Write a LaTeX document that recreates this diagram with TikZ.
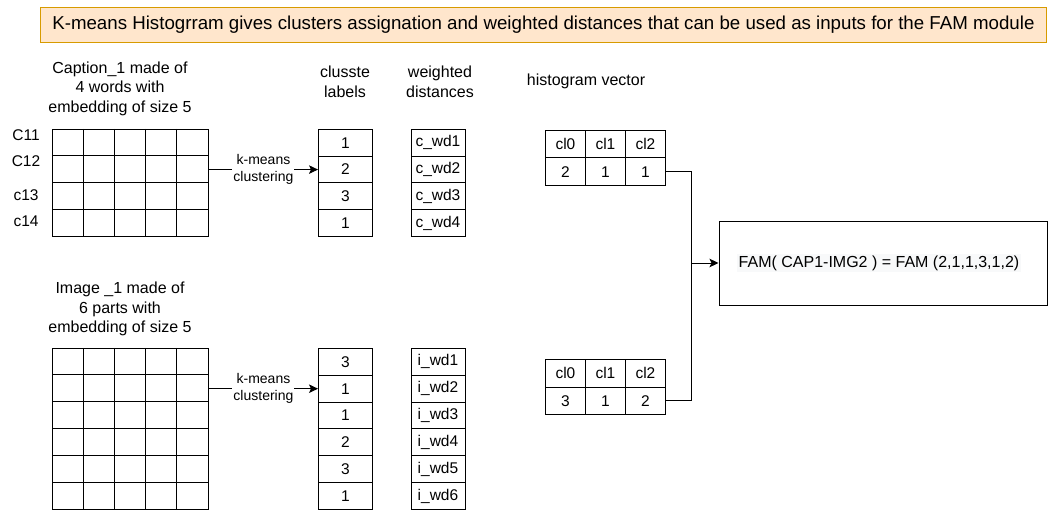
\documentclass[tikz,border=0pt]{standalone}
\usepackage{fontspec}
\setmainfont{Liberation Sans}
\usetikzlibrary{arrows.meta}
\definecolor{titlefill}{HTML}{FFE6CC}
\definecolor{titledraw}{HTML}{D79B00}
\definecolor{txthl}{HTML}{F8F9FA}
\begin{document}
\begin{tikzpicture}[x=1pt,y=-1pt,line width=0.9pt,
  cell/.style={draw, minimum width=54pt, minimum height=26.75pt, inner sep=0pt, anchor=north west, font=\fontsize{15.5}{17}\selectfont},
  icell/.style={cell, minimum height=26.83pt},
  hcell/.style={draw, minimum width=40pt, minimum height=27.5pt, inner sep=0pt, anchor=north west, font=\fontsize{15.5}{17}\selectfont},
  hdr/.style={align=center, font=\fontsize{16}{19.5}\selectfont, inner sep=0pt},
  rowlbl/.style={font=\fontsize{15.5}{17}\selectfont, inner sep=0pt},
  gridbox/.style={draw, inner sep=0pt, anchor=north west},
  arr/.style={-{Stealth[length=9pt,width=8.5pt,inset=2pt]}},
  edgelbl/.style={fill=white, align=center, font=\fontsize{14}{17}\selectfont, inner sep=1pt}]
\useasboundingbox (0,0) rectangle (1049,518);

% title
\node[draw=titledraw, fill=titlefill, minimum width=1006pt, minimum height=35pt, anchor=north west, inner sep=0pt] (title) at (40,7) {};
\node[font=\fontsize{18.7}{21}\selectfont, inner sep=0pt] (titletext) at (title.center) {K-means Histogrram gives clusters assignation and weighted distances that can be used as inputs for the FAM module};

% headers
\node[hdr] (caphdr) at (120,88.5) {Caption\_1 made of\\4 words with\\embedding of size 5};
\node[hdr] (clhdr) at (345,82) {clusste\\labels};
\node[hdr] (wdhdr) at (440,82) {weighted\\distances};
\node[hdr] (histhdr) at (586,81) {histogram vector};
\node[hdr] (imghdr) at (120,309) {Image \_1 made of\\6 parts with\\embedding of size 5};

% row labels
\node[rowlbl] (r11) at (26,135) {C11};
\node[rowlbl] (r12) at (26,161) {C12};
\node[rowlbl] (r13) at (26,195) {c13};
\node[rowlbl] (r14) at (26,221) {c14};

% caption grid
\node[gridbox, minimum width=156pt, minimum height=107pt] (capgrid) at (52,129) {};
\foreach \i in {1,...,4} \draw ({52+31.2*\i},129) -- ({52+31.2*\i},236);
\foreach \j in {1,2,3} \draw (52,{129+26.75*\j}) -- (208,{129+26.75*\j});

% image grid
\node[gridbox, minimum width=156pt, minimum height=161pt] (imggrid) at (52,348) {};
\foreach \i in {1,...,4} \draw ({52+31.2*\i},348) -- ({52+31.2*\i},509);
\foreach \j in {1,...,5} \draw (52,{348+26.83*\j}) -- (208,{348+26.83*\j});

% caption cluster labels and weighted distances
\foreach \v [count=\k] in {1,2,3,1}
  \node[cell] (ca\k) at (318,{129+26.75*(\k-1)}) {\v};
\foreach \k in {1,...,4}
  \node[cell] (cw\k) at (410.5,{129+26.75*(\k-1)}) {c\_wd\k};

% image cluster labels and weighted distances
\foreach \v [count=\k] in {3,1,1,2,3,1}
  \node[icell] (ia\k) at (318,{348+26.83*(\k-1)}) {\v};
\foreach \k in {1,...,6}
  \node[icell] (iw\k) at (410.5,{348+26.83*(\k-1)}) {i\_wd\k};

% histograms
\foreach \t [count=\k] in {cl0,cl1,cl2}
  \node[hcell] (ha1\k) at ({545+40*(\k-1)},130) {\t};
\foreach \t [count=\k] in {2,1,1}
  \node[hcell] (ha2\k) at ({545+40*(\k-1)},157.5) {\t};
\foreach \t [count=\k] in {cl0,cl1,cl2}
  \node[hcell] (hb1\k) at ({545+40*(\k-1)},359) {\t};
\foreach \t [count=\k] in {3,1,2}
  \node[hcell] (hb2\k) at ({545+40*(\k-1)},386.5) {\t};

% FAM box
\node[draw, minimum width=328pt, minimum height=84pt, anchor=north west, inner sep=0pt] (fam) at (718.5,221) {};
\node[fill=txthl, inner sep=1.5pt, font=\fontsize{16}{19}\selectfont] (famtext) at (879,263) {FAM( CAP1-IMG2 ) = FAM (2,1,1,3,1,2)};

% connectors
\draw[arr] (ca2.west -| capgrid.east) -- node[edgelbl] (km1) {k-means\\clustering} (ca2.west);
\draw[arr] (ia2.west -| imggrid.east) -- node[edgelbl] (km2) {k-means\\clustering} (ia2.west);
\coordinate (join) at (691.5,263);
\draw[arr] (ha23.east) -| (join) -- (join -| fam.west);
\draw (hb23.east) -| (join);
\end{tikzpicture}
\end{document}
